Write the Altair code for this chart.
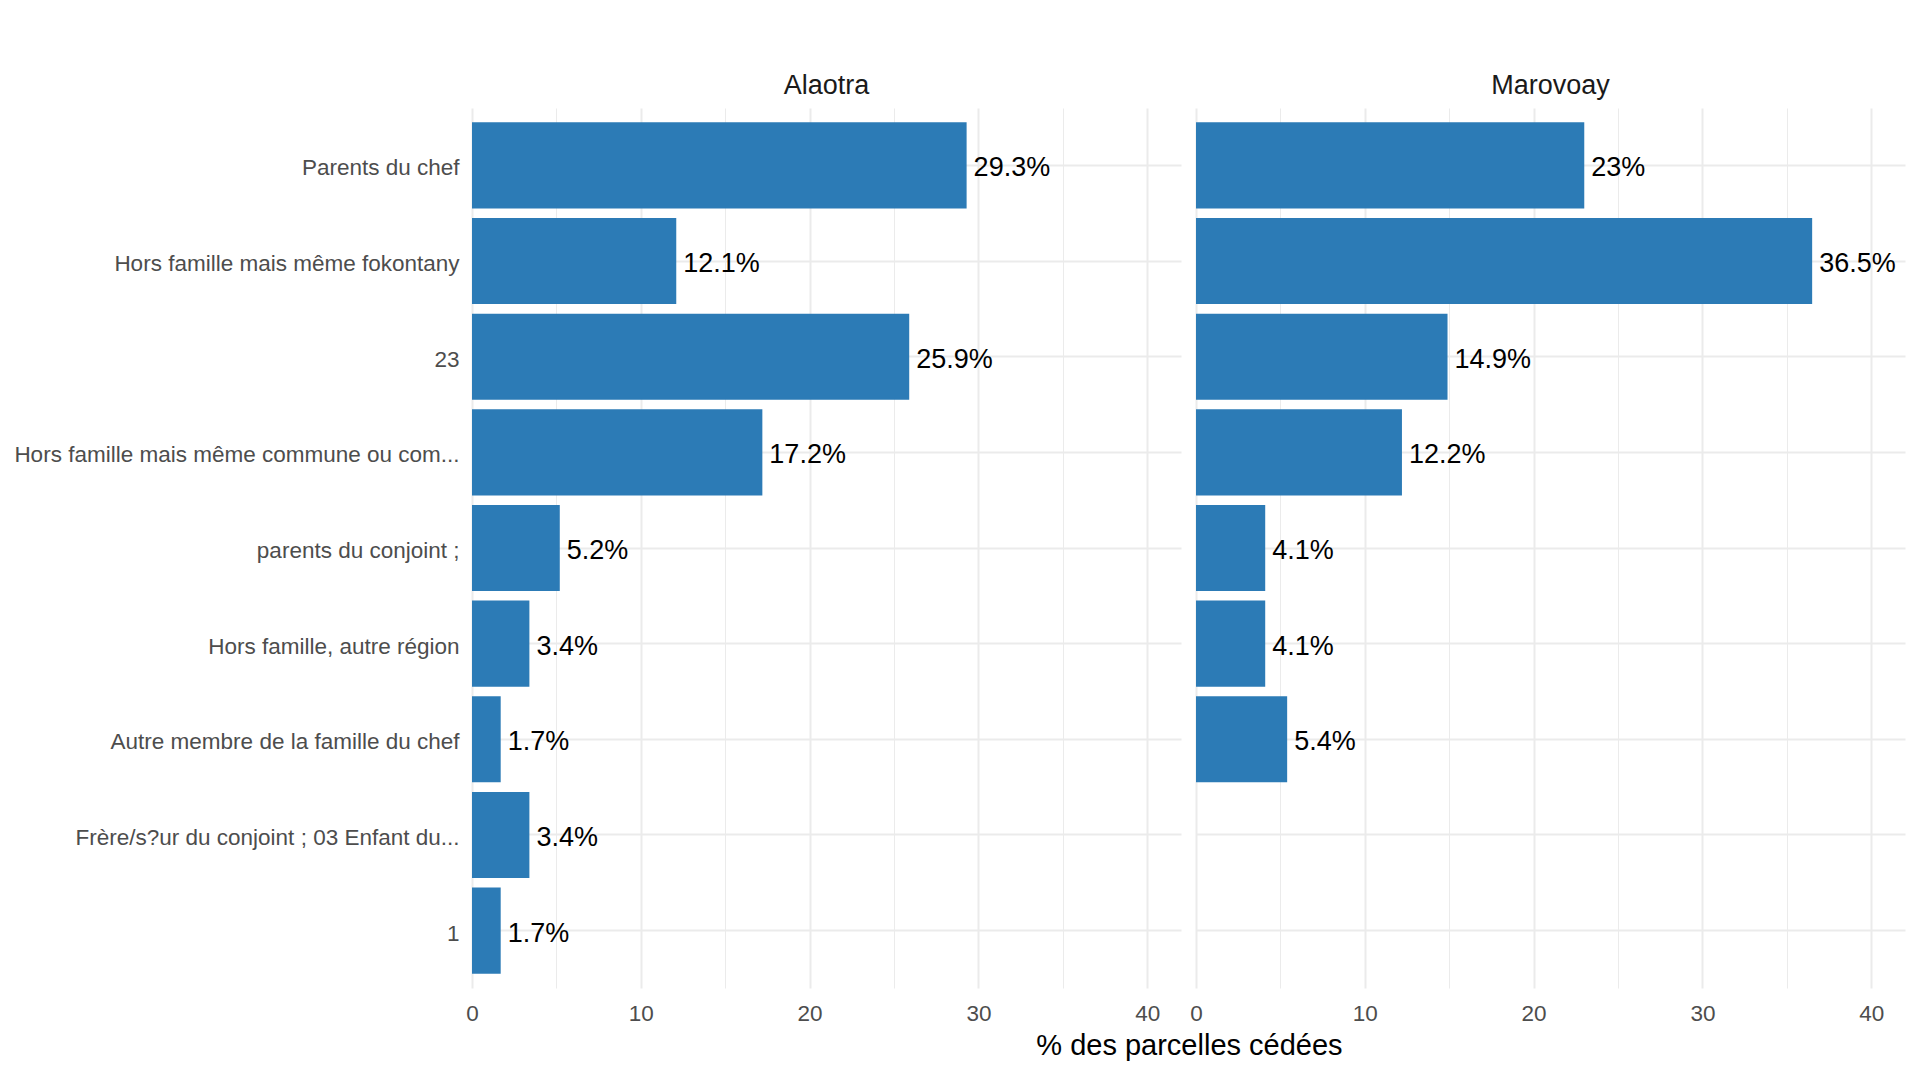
import altair as alt
import pandas as pd

categories = [
    "Parents du chef",
    "Hors famille mais même fokontany",
    "23",
    "Hors famille mais même commune ou com...",
    "parents du conjoint ;",
    "Hors famille, autre région",
    "Autre membre de la famille du chef",
    "Frère/s?ur du conjoint ; 03 Enfant du...",
    "1",
]
regions = ["Alaotra", "Marovoay"]
alaotra = [29.3, 12.1, 25.9, 17.2, 5.2, 3.4, 1.7, 3.4, 1.7]
marovoay = [23.0, 36.5, 14.9, 12.2, 4.1, 4.1, 5.4, None, None]
x_ticks = [0, 5, 10, 15, 20, 25, 30, 35, 40]

rows = []
for cat, a, m in zip(categories, alaotra, marovoay):
    if a is not None:
        rows.append({"region": "Alaotra", "cat": cat, "pct": a})
    if m is not None:
        rows.append({"region": "Marovoay", "cat": cat, "pct": m})
df = pd.DataFrame(rows)
df["label"] = df["pct"].map(lambda v: f"{v:g}%")

FONT = "Liberation Sans"

y_enc = alt.Y(
    "cat:N",
    sort=categories,
    scale=alt.Scale(paddingInner=0.1, paddingOuter=0.15),
    axis=alt.Axis(
        title=None,
        labelFontSize=22.5,
        labelColor="#4d4d4d",
        labelFont=FONT,
        labelLimit=600,
        labelPadding=13,
        labelOffset=3,
        ticks=False,
        domain=False,
        grid=True,
        gridColor="#ebebeb",
        gridWidth=2,
    ),
)
x_enc = alt.X(
    "pct:Q",
    scale=alt.Scale(domain=[0, 42], nice=False, zero=True),
    axis=alt.Axis(
        title=None,
        values=x_ticks,
        labelExpr="datum.value % 10 == 0 ? datum.label : ''",
        labelFontSize=22.5,
        labelColor="#4d4d4d",
        labelFont=FONT,
        labelPadding=14,
        labelFlush=False,
        ticks=False,
        domain=False,
        grid=True,
        gridColor="#ebebeb",
        gridWidth={"condition": {"test": "datum.value % 10 == 0", "value": 2}, "value": 1},
    ),
)

bars = alt.Chart().mark_bar(color="#2c7bb6").encode(x=x_enc, y=y_enc)
text = alt.Chart().mark_text(
    align="left", baseline="middle", dx=7, dy=3, fontSize=27, color="black", font=FONT
).encode(
    x=x_enc,
    y=y_enc,
    text="label:N",
)

chart = (
    alt.layer(bars, text, data=df)
    .properties(width=709, height=880)
    .facet(
        column=alt.Column(
            "region:N",
            sort=regions,
            title=None,
            header=alt.Header(
                labelFontSize=27,
                labelColor="#1a1a1a",
                labelFont=FONT,
                labelPadding=8,
            ),
        ),
        spacing=15,
    )
    .properties(
        title=alt.TitleParams(
            "% des parcelles cédées",
            orient="bottom",
            anchor="middle",
            frame="bounds",
            dx=230,
            fontSize=29,
            fontWeight="normal",
            font=FONT,
            color="black",
            offset=7,
        ),
        padding={"left": 5, "top": 64, "right": 5, "bottom": 5},
    )
    .configure(font=FONT)
    .configure_view(stroke=None, strokeWidth=0)
)

chart.save("out.html", embed_options={"renderer": "svg", "actions": False})
